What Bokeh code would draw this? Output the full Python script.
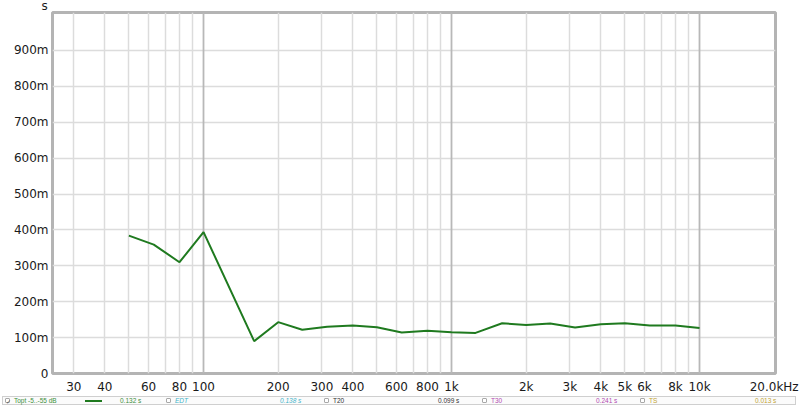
from bokeh.plotting import figure
from bokeh.models import FixedTicker, Grid, Range1d, Div
from bokeh.layouts import column
from bokeh.embed import file_html
from bokeh.resources import INLINE

# ---- data ----
freqs = [50, 63, 80, 100, 160, 200, 250, 315, 400, 500, 630, 800, 1000,
         1250, 1600, 2000, 2500, 3150, 4000, 5000, 6300, 8000, 10000]
topt = [0.384, 0.359, 0.310, 0.394, 0.090, 0.143, 0.122, 0.130, 0.134, 0.129,
        0.114, 0.119, 0.115, 0.113, 0.140, 0.135, 0.139, 0.128, 0.137, 0.140,
        0.134, 0.134, 0.127]

x_grid_minor = [30, 40, 50, 60, 70, 80, 90, 200, 300, 400, 500, 600, 700, 800, 900,
                2000, 3000, 4000, 5000, 6000, 7000, 8000, 9000]
x_grid_major = [100, 1000, 10000]
x_tick_labels = {30: "30", 40: "40", 60: "60", 80: "80", 100: "100",
                 200: "200", 300: "300", 400: "400", 600: "600", 800: "800",
                 1000: "1k", 2000: "2k", 3000: "3k", 4000: "4k", 5000: "5k",
                 6000: "6k", 8000: "8k", 10000: "10k", 20000: "20.0kHz"}
y_ticks = [0, 0.1, 0.2, 0.3, 0.4, 0.5, 0.6, 0.7, 0.8, 0.9]
y_tick_labels = ["0", "100m", "200m", "300m", "400m", "500m", "600m", "700m", "800m", "900m"]
y_unit = "s"

legend_names = ["Topt -5..-55 dB", "EDT", "T20", "T30", "TS"]
legend_values = ["0.132 s", "0.138 s", "0.099 s", "0.241 s", "0.013 s"]
legend_colors = ["#3b8f3b", "#3fb3c9", "#333333", "#b24bb2", "#c2a436"]
legend_checked = [True, False, False, False, False]
legend_italic = [False, True, False, False, False]
# pixel layout of the legend strip
legend_box_x = [5, 166, 324, 482, 640]
legend_val_x = [120, 280, 438, 596, 755]

W = 800
FONT = "DejaVu Sans"

p = figure(width=W, height=396, x_axis_type="log",
           x_range=Range1d(24.6, 20250), y_range=Range1d(0, 1.0056),
           output_backend="svg", toolbar_location=None,
           min_border_left=52, min_border_right=25,
           min_border_top=12, min_border_bottom=22,
           background_fill_color="white", border_fill_color="white")
p.outline_line_color = "#b4b4b4"
p.outline_line_width = 3

# unit label via title
p.title.text = y_unit
p.title.align = "left"
p.title.offset = -11
p.title.standoff = -4
p.title.vertical_align = "top"
p.title.text_font = FONT
p.title.text_font_size = "12px"
p.title.text_font_style = "normal"
p.title.text_color = "#1a1a1a"

# axes
xax = p.xaxis[0]
all_x_ticks = sorted(x_grid_minor + x_grid_major + [20000])
xax.ticker = FixedTicker(ticks=all_x_ticks)
xax.major_label_overrides = {t: x_tick_labels.get(t, "") for t in all_x_ticks}
yax = p.yaxis[0]
yax.ticker = FixedTicker(ticks=y_ticks)
yax.major_label_overrides = {t: l for t, l in zip(y_ticks, y_tick_labels)}
for ax in (xax, yax):
    ax.axis_line_color = None
    ax.major_tick_line_color = None
    ax.minor_tick_line_color = None
    ax.major_tick_out = 0
    ax.major_tick_in = 0
    ax.major_label_text_font = FONT
    ax.major_label_text_font_size = "12px"
    ax.major_label_text_color = "#1a1a1a"
xax.major_label_standoff = 6
yax.major_label_standoff = 4

# grids
p.xgrid.ticker = FixedTicker(ticks=x_grid_minor)
p.xgrid.grid_line_color = "#dcdcdc"
p.xgrid.grid_line_width = 1.5
p.ygrid.ticker = FixedTicker(ticks=y_ticks)
p.ygrid.grid_line_color = "#dcdcdc"
p.ygrid.grid_line_width = 1.5
p.add_layout(Grid(dimension=0, ticker=FixedTicker(ticks=x_grid_major),
                  grid_line_color="#b8b8b8", grid_line_width=1.8))

# data line
p.line(freqs, topt, line_color="#1f7a1f", line_width=2)

# ---- legend strip (HTML) ----
parts = ['<div style="position:relative;width:800px;height:12px;'
         'font-family:\'Liberation Sans\',sans-serif;font-size:6.5px;line-height:10px;">',
         '<div style="position:absolute;left:2px;top:0px;width:794px;height:9px;'
         'border:1px solid #cfcfcf;background:#fbfbfb;"></div>']
for bx, chk, name, col, ital, vx, val in zip(legend_box_x, legend_checked, legend_names,
                                            legend_colors, legend_italic, legend_val_x,
                                            legend_values):
    st = "italic" if ital else "normal"
    parts.append(f'<div style="position:absolute;left:{bx}px;top:2px;width:5px;height:5px;'
                 f'border:1px solid #a8a8a8;background:white;border-radius:1px;'
                 f'font-size:6px;line-height:6px;text-align:center;color:#555;">'
                 f'{"&#10003;" if chk else ""}</div>')
    parts.append(f'<span style="position:absolute;left:{bx + 9}px;top:0px;color:{col};'
                 f'font-style:{st};white-space:nowrap;">{name}</span>')
    parts.append(f'<span style="position:absolute;left:{vx}px;top:0px;color:{col};'
                 f'font-style:{st};white-space:nowrap;">{val}</span>')
parts.append('<div style="position:absolute;left:85px;top:4px;width:17px;height:2px;'
             'background:#1f7a1f;"></div>')
parts.append('</div>')
leg = Div(text="".join(parts), width=W, height=12, margin=(0, 0, 0, 0))

layout = column(p, leg, spacing=0)
open("out.html", "w").write(file_html(layout, INLINE))
